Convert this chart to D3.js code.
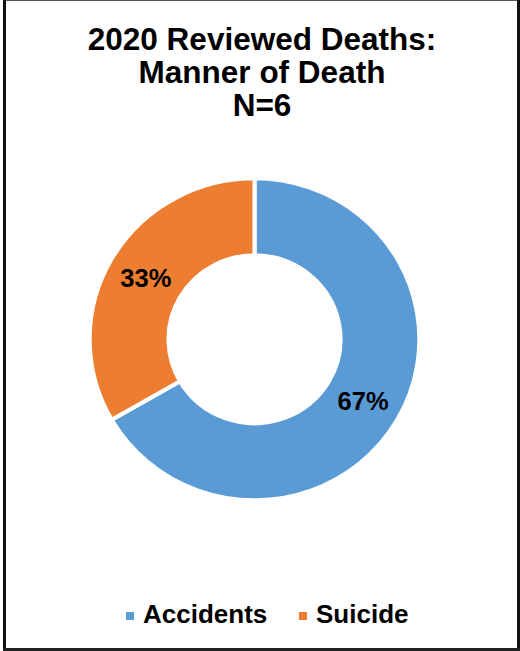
<!DOCTYPE html>
<html>
<head>
<meta charset="utf-8">
<script src="https://cdn.jsdelivr.net/npm/d3@7"></script>
<style>
  html, body { margin: 0; padding: 0; background: #fff; }
  svg { display: block; }
  text { font-family: "Liberation Sans", Arial, sans-serif; font-weight: bold; fill: #000; }
</style>
</head>
<body>
<svg id="chart" width="520" height="651"></svg>
<script>
const titleLines = ["2020 Reviewed Deaths:", "Manner of Death", "N=6"];
const categories = ["Accidents", "Suicide"];
const values = [4, 2];
const percentLabels = ["67%", "33%"];
const colors = ["#5B9BD5", "#ED7D31"];

const W = 520, H = 651;
const svg = d3.select("#chart");

// frame
svg.append("rect").attr("x", 0).attr("y", 0).attr("width", W).attr("height", H).attr("fill", "#fff");
svg.append("line").attr("x1", 4).attr("x2", 518).attr("y1", 0.5).attr("y2", 0.5).attr("stroke", "#555").attr("stroke-width", 1);
svg.append("line").attr("x1", 4.5).attr("x2", 4.5).attr("y1", 0).attr("y2", 651).attr("stroke", "#111").attr("stroke-width", 3);
svg.append("line").attr("x1", 518.5).attr("x2", 518.5).attr("y1", 0).attr("y2", 651).attr("stroke", "#111").attr("stroke-width", 3);
svg.append("line").attr("x1", 3).attr("x2", 520).attr("y1", 649.5).attr("y2", 649.5).attr("stroke", "#222").attr("stroke-width", 3);

// title
const title = svg.append("text").attr("text-anchor", "middle").style("font-size", "31.5px");
titleLines.forEach((t, i) => {
  title.append("tspan").attr("x", 262).attr("y", 50 + i * 33).text(t);
});

// donut
const cx = 254.5, cy = 339.3, R = 161, r = 84, sx = 1.024;
const pie = d3.pie().sort(null).value(d => d)(values);
const arc = d3.arc().outerRadius(R).innerRadius(r);
const labelArc = d3.arc().outerRadius((R + r) / 2).innerRadius((R + r) / 2);
const colorScale = d3.scaleOrdinal().domain(categories).range(colors);

const g = svg.append("g").attr("transform", `translate(${cx},${cy})`);
const gs = g.append("g").attr("transform", `scale(${sx},1)`);
gs.selectAll("path").data(pie).enter().append("path")
  .attr("d", arc)
  .attr("fill", (d, i) => colorScale(categories[i]))
  .attr("stroke", "#fff").attr("stroke-width", 4).attr("stroke-linejoin", "miter");

g.selectAll("text.lbl").data(pie).enter().append("text")
  .attr("class", "lbl")
  .attr("text-anchor", "middle")
  .attr("x", d => labelArc.centroid(d)[0] * sx)
  .attr("y", d => labelArc.centroid(d)[1] + 9)
  .style("font-size", "25.5px")
  .text((d, i) => percentLabels[i]);

// legend
const legend = svg.append("g");
const legItems = [{x: 126, tx: 143}, {x: 299, tx: 316}];
categories.forEach((c, i) => {
  legend.append("rect").attr("x", legItems[i].x).attr("y", 612).attr("width", 8).attr("height", 8).attr("fill", colorScale(c));
  legend.append("text").attr("x", legItems[i].tx).attr("y", 623).style("font-size", "26px").text(c);
});
</script>
</body>
</html>
